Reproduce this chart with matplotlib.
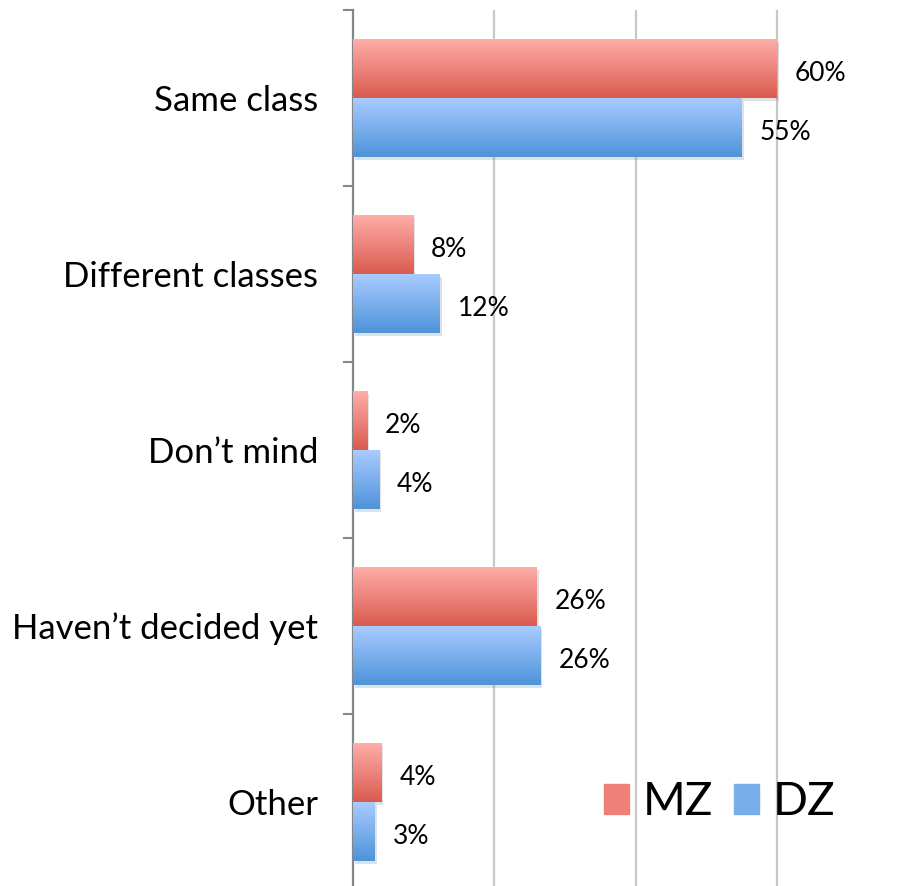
import numpy as np
import matplotlib
matplotlib.use('Agg')
import matplotlib.pyplot as plt
import matplotlib.patheffects as pe
from matplotlib.colors import LinearSegmentedColormap

plt.rcParams['font.family'] = ['Lato', 'DejaVu Sans']

# data
categories = ['Same class', 'Different classes', 'Don\u2019t mind',
              'Haven\u2019t decided yet', 'Other']
mz_values = [60, 8.5, 2, 26, 4]
dz_values = [55, 12.3, 3.7, 26.5, 3.1]
mz_labels = ['60%', '8%', '2%', '26%', '4%']
dz_labels = ['55%', '12%', '4%', '26%', '3%']
series_names = ['MZ', 'DZ']

# gradient top -> bottom
red_cmap = LinearSegmentedColormap.from_list('red', ['#FFADA9', '#DB5A4E'])
blue_cmap = LinearSegmentedColormap.from_list('blue', ['#A8CCFF', '#4E92DA'])

fig = plt.figure(figsize=(9.04, 8.86), dpi=100)
ax = fig.add_axes([353 / 904, -4 / 886, 551 / 904, 880 / 886])

y = np.arange(len(categories))
h = 0.335
bars_mz = ax.barh(y - h / 2, mz_values, height=h, color='#EE8077', zorder=2)
bars_dz = ax.barh(y + h / 2, dz_values, height=h, color='#79AEEB', zorder=2)

grad = np.linspace(0, 1, 256).reshape(-1, 1)
for bars, cmap in [(bars_mz, red_cmap), (bars_dz, blue_cmap)]:
    for b in bars:
        b.set_path_effects([pe.SimplePatchShadow(offset=(1.5, -2), shadow_rgbFace='#888888', alpha=0.25),
                            pe.Normal()])
        x0, y0, w, hh = b.get_x(), b.get_y(), b.get_width(), b.get_height()
        ax.imshow(grad, cmap=cmap, aspect='auto', extent=(x0, x0 + w, y0 + hh, y0),
                  origin='upper', zorder=3, interpolation='bicubic')

for bars, labs in [(bars_mz, mz_labels), (bars_dz, dz_labels)]:
    for b, lab in zip(bars, labs):
        ax.annotate(lab, (b.get_width(), b.get_y() + b.get_height() / 2),
                    xytext=(13, -3.5), textcoords='offset points',
                    va='center', ha='left', fontsize=19)

ax.set_xlim(0, 78)
ax.set_ylim(len(categories) - 0.5, -0.5)
ax.set_xticks([20, 40, 60])
ax.set_xticklabels([])
ax.tick_params(axis='x', length=0)
ax.grid(axis='x', color='#C8C8C8', linewidth=1.6, zorder=0)
ax.set_axisbelow(True)

ax.set_yticks(y)
ax.set_yticklabels(categories, fontsize=25)
ax.set_yticks(np.arange(len(categories) + 1) - 0.5, minor=True)
ax.tick_params(axis='y', which='major', length=0, pad=25)
ax.tick_params(axis='y', which='minor', length=7, width=1.5, color='#868686')

for s in ['top', 'right', 'bottom']:
    ax.spines[s].set_visible(False)
ax.spines['left'].set_color('#868686')
ax.spines['left'].set_linewidth(1.6)

handles = [plt.Rectangle((0, 0), 1, 1, color='#EE8077'),
           plt.Rectangle((0, 0), 1, 1, color='#79AEEB')]
ax.legend(handles, series_names, loc='center', bbox_to_anchor=(0.665, 0.1),
          ncol=2, frameon=False, fontsize=33, handlelength=0.55, handleheight=0.65,
          handletextpad=0.3, columnspacing=0.45)

fig.savefig('out.png', dpi=100)
